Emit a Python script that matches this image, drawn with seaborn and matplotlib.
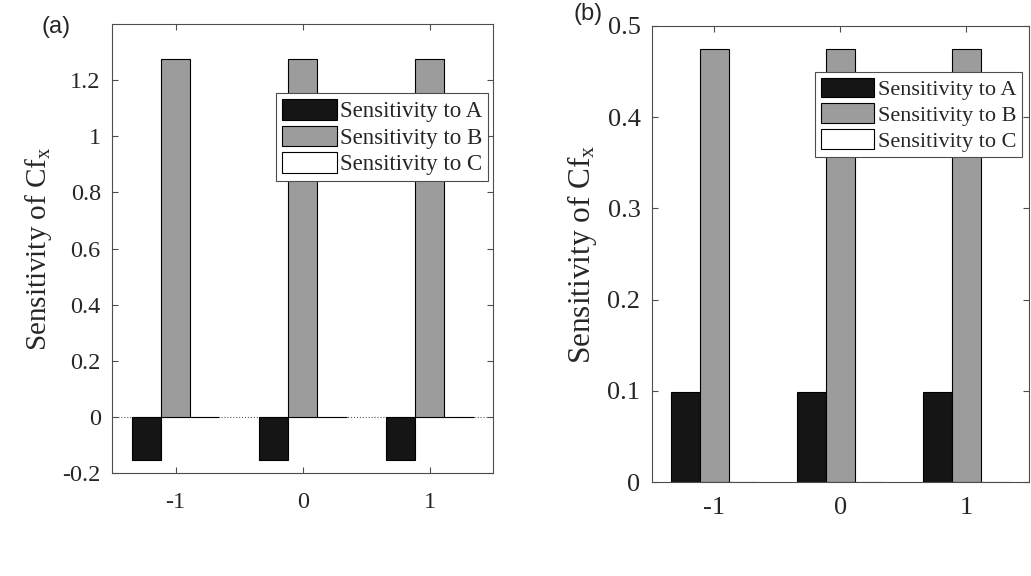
import numpy as np
import pandas as pd
import matplotlib
matplotlib.use("Agg")
import matplotlib.pyplot as plt
from matplotlib.patches import Patch
import seaborn as sns

# ---- data ----
x_levels = ["-1", "0", "1"]
series = ["Sensitivity to A", "Sensitivity to B", "Sensitivity to C"]
vals_a = {"Sensitivity to A": [-0.153, -0.153, -0.153],
          "Sensitivity to B": [1.275, 1.275, 1.275],
          "Sensitivity to C": [0.0, 0.0, 0.0]}
vals_b = {"Sensitivity to A": [0.0985, 0.0985, 0.0985],
          "Sensitivity to B": [0.475, 0.475, 0.475],
          "Sensitivity to C": [0.0, 0.0, 0.0]}
colors = {"Sensitivity to A": "#151515",
          "Sensitivity to B": "#9c9c9c",
          "Sensitivity to C": "#ffffff"}
yticks_a = [-0.2, 0, 0.2, 0.4, 0.6, 0.8, 1, 1.2]
yticklabels_a = ["-0.2", "0", "0.2", "0.4", "0.6", "0.8", "1", "1.2"]
yticks_b = [0, 0.1, 0.2, 0.3, 0.4, 0.5]
yticklabels_b = ["0", "0.1", "0.2", "0.3", "0.4", "0.5"]

def long_df(vals):
    rows = []
    for s in series:
        for xl, v in zip(x_levels, vals[s]):
            rows.append({"x": xl, "series": s, "value": v})
    return pd.DataFrame(rows)

sns.set_style("ticks")
plt.rcParams["font.family"] = ["Liberation Serif", "DejaVu Serif"]
plt.rcParams["mathtext.fontset"] = "custom"
plt.rcParams["mathtext.rm"] = "Liberation Serif"
plt.rcParams["mathtext.it"] = "Liberation Serif:italic"

fig = plt.figure(figsize=(10.31, 5.76), dpi=100)
ax1 = fig.add_axes([0.1086, 0.179, 0.370, 0.779])
ax2 = fig.add_axes([0.632, 0.163, 0.366, 0.792])

def draw(ax, vals, ylim, yticks, yticklabels, tsize, lsize, legsize, leg_anchor, zero_line, xpad):
    df = long_df(vals)
    sns.barplot(data=df, x="x", y="value", hue="series", order=x_levels,
                hue_order=series, palette=colors, width=0.69,
                edgecolor="black", linewidth=0.8, errorbar=None, ax=ax, legend=False)
    if zero_line:
        ax.axhline(0, color="0.35", lw=0.8, ls=":", zorder=0.5)
    ax.set_xlim(-0.5, 2.5)
    ax.set_ylim(*ylim)
    ax.set_yticks(yticks)
    ax.set_yticklabels(yticklabels)
    ax.set_xlabel("")
    ax.set_ylabel("Sensitivity of Cf$_\\mathrm{x}$", fontsize=lsize, labelpad=6)
    ax.tick_params(direction="in", top=True, right=True, length=4, width=0.8,
                   labelsize=tsize, color="0.3")
    ax.tick_params(axis="x", pad=xpad)
    ax.tick_params(axis="y", pad=8)
    for sp in ax.spines.values():
        sp.set_visible(True)
        sp.set_linewidth(0.8)
        sp.set_color("0.3")
    handles = [Patch(facecolor=colors[s], edgecolor="black", linewidth=0.8) for s in series]
    leg = ax.legend(handles, series, loc="upper right", bbox_to_anchor=leg_anchor,
                    fontsize=legsize, frameon=True, fancybox=False, framealpha=1,
                    edgecolor="0.3", handlelength=2.4, handleheight=1.0,
                    handletextpad=0.15, borderpad=0.25, labelspacing=0.15,
                    borderaxespad=0)
    leg.get_frame().set_linewidth(0.8)

draw(ax1, vals_a, (-0.2, 1.4), yticks_a, yticklabels_a, 17.5, 21, 16.5, (0.987, 0.846), True, 14)
draw(ax2, vals_b, (0, 0.5), yticks_b, yticklabels_b, 19, 22.5, 16, (0.981, 0.899), False, 11)

fig.text(0.054, 0.953, "(a)", fontsize=17, family="Liberation Sans", va="center", ha="center")
fig.text(0.570, 0.975, "(b)", fontsize=17, family="Liberation Sans", va="center", ha="center")

fig.savefig("out.png", dpi=100)
